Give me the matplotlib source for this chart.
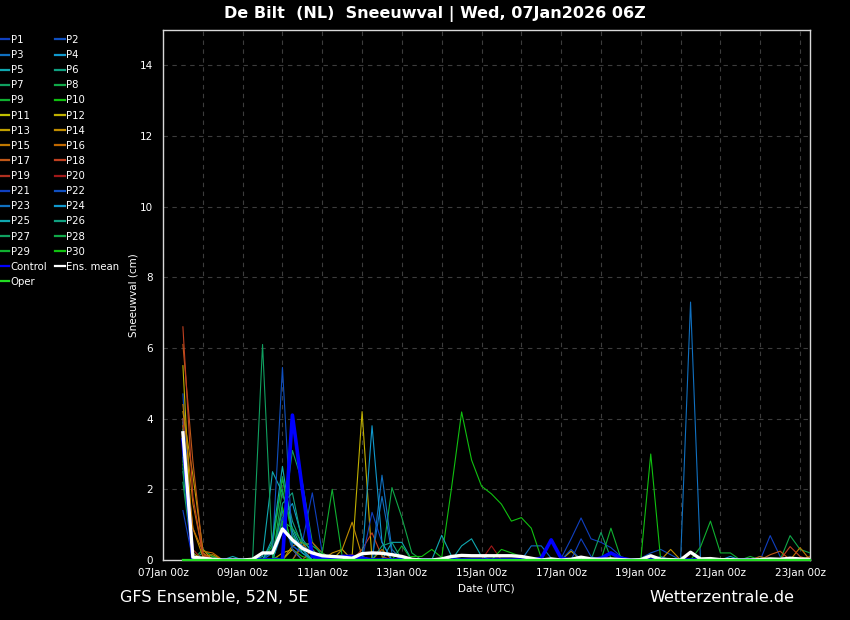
import matplotlib
matplotlib.use("Agg")
import matplotlib.pyplot as plt
import matplotlib.dates as mdates
from matplotlib.lines import Line2D
import pandas as pd

# GFS ensemble snowfall (cm), 6-hourly from 07Jan2026 12z
run_start = "2026-01-07 12:00"
n_steps = 64

P1 = [3.2, 0.1, 0, 0, 0, 0, 0, 0, 0, 0, 0, 0, 0.5, 1.9, 0.2, 0,
      0, 0, 0, 0, 0, 0, 0, 0, 0, 0, 0, 0, 0, 0, 0, 0,
      0, 0, 0, 0, 0, 0, 0.05, 0.6, 1.19, 0.6, 0.5, 0.35, 0.1, 0, 0, 0,
      0, 0, 0, 0, 0, 0, 0, 0, 0, 0, 0, 0.69, 0.1, 0, 0, 0]
P2 = [4.7, 0.05, 0, 0, 0, 0, 0, 0, 0, 0, 0, 0, 0, 0, 0, 0,
      0, 0, 0, 0, 0, 0, 0, 0, 0, 0, 0, 0, 0, 0, 0, 0,
      0, 0, 0, 0, 0, 0, 0, 0, 0, 0, 0, 0, 0, 0, 0.05, 0.2,
      0.3, 0.15, 0, 0, 0, 0, 0, 0, 0, 0, 0.1, 0, 0, 0, 0, 0]
P3 = [3.9, 0.1, 0, 0, 0, 0, 0, 0, 0, 0.2, 1.4, 0.4, 0.2, 0, 0, 0,
      0, 0, 0, 0, 1.8, 0.2, 0, 0, 0, 0, 0, 0, 0, 0, 0, 0,
      0, 0, 0, 0.4, 0.4, 0.05, 0, 0, 0, 0, 0, 0, 0, 0, 0, 0,
      0, 0, 0, 0, 0, 0, 0, 0, 0, 0, 0, 0, 0, 0, 0, 0]
P4 = [4.0, 0.1, 0, 0, 0, 0, 0, 0, 0, 0, 1.2, 1.6, 0.6, 0.2, 0, 0,
      0, 0, 0, 0, 0, 0, 0, 0, 0, 0, 0, 0, 0, 0, 0, 0,
      0, 0, 0, 0, 0, 0, 0, 0, 0, 0, 0, 0, 0, 0, 0, 0,
      0, 0, 0, 0, 0, 0, 0, 0.1, 0, 0, 0, 0, 0, 0, 0, 0]
P5 = [3.7, 0, 0, 0, 0, 0.1, 0, 0, 0.1, 2.5, 1.9, 0.9, 0.3, 0, 0, 0,
      0, 0, 0, 0, 0, 0.5, 0.5, 0, 0, 0, 0, 0, 0.4, 0.6, 0.1, 0,
      0, 0, 0, 0, 0, 0, 0, 0, 0, 0, 0, 0, 0, 0, 0, 0,
      0, 0, 0, 0, 0, 0, 0, 0, 0, 0, 0, 0, 0, 0, 0, 0]
P6 = [2.5, 0, 0.2, 0, 0, 0, 0, 0, 0, 0.5, 2.3, 1.1, 0.4, 0.2, 0, 0,
      0, 0, 0, 0, 0, 0, 0, 0, 0, 0, 0, 0, 0, 0, 0, 0,
      0, 0, 0, 0, 0, 0, 0, 0, 0, 0, 0, 0, 0, 0, 0, 0,
      0, 0, 0, 0, 0, 0, 0, 0, 0, 0, 0, 0, 0, 0, 0, 0]
P7 = [2.2, 0, 0, 0, 0, 0, 0, 0, 0, 0, 0.9, 3.1, 2.2, 0.5, 0.1, 0,
      0, 0, 0, 0, 0, 0, 0, 0, 0, 0, 0, 0, 0, 0, 0, 0,
      0, 0, 0, 0, 0, 0, 0, 0, 0, 0, 0.78, 0.05, 0, 0, 0, 0,
      0, 0, 0, 0, 0, 0, 0, 0, 0, 0, 0, 0, 0, 0, 0, 0]
P8 = [3.0, 0, 0.3, 0.1, 0, 0, 0, 0, 0, 0, 2.0, 0.7, 0.3, 0, 0, 0,
      0, 0, 0, 0, 0, 2.05, 1.2, 0.2, 0, 0, 0, 0, 0, 0, 0, 0,
      0, 0, 0, 0, 0, 0, 0, 0, 0, 0, 0, 0, 0, 0, 0, 0,
      0, 0, 0, 0, 0, 0, 0, 0, 0, 0, 0, 0, 0, 0.69, 0.3, 0.2]
P9 = [2.8, 0, 0, 0.1, 0, 0, 0, 0, 0, 0.4, 2.35, 0.6, 0.2, 0, 0, 0,
      0, 0, 0, 0, 0, 0, 0.4, 0, 0, 0, 0, 0, 0, 0, 0, 0,
      0, 0, 0, 0, 0, 0, 0, 0, 0, 0, 0, 0.9, 0.05, 0, 0, 0,
      0, 0, 0, 0, 0, 0, 0, 0, 0, 0.1, 0, 0, 0, 0, 0, 0]
P10 = [3.3, 0, 0, 0, 0, 0, 0, 0, 0, 0, 1.5, 0.3, 0.1, 0, 0, 0,
       0, 0, 0, 0, 0, 0, 0, 0.1, 0.1, 0.3, 0.07, 2.07, 4.19, 2.83, 2.09, 1.87,
       1.58, 1.1, 1.2, 0.9, 0.06, 0, 0, 0, 0, 0, 0, 0, 0, 0, 0, 0,
       0, 0, 0, 0, 0, 0, 0, 0, 0, 0, 0, 0, 0, 0, 0, 0]
P11 = [3.4, 0.1, 0, 0, 0, 0, 0, 0, 0, 0, 0, 0, 0, 0, 0.2, 0,
       0, 0, 0, 0, 0, 0, 0, 0, 0, 0, 0, 0, 0, 0, 0, 0,
       0, 0, 0, 0, 0, 0, 0, 0, 0, 0, 0, 0, 0, 0, 0, 0,
       0, 0, 0, 0, 0, 0, 0, 0, 0, 0, 0, 0, 0, 0, 0, 0]
P12 = [5.5, 0.2, 0, 0, 0, 0, 0, 0, 0, 0, 0, 0.3, 0, 0, 0, 0,
       0, 0.1, 4.2, 0, 0, 0, 0, 0, 0, 0, 0, 0, 0, 0, 0, 0,
       0, 0, 0, 0, 0, 0, 0, 0, 0, 0, 0, 0, 0, 0, 0, 0,
       0, 0, 0, 0, 0, 0, 0, 0, 0, 0, 0, 0, 0, 0, 0, 0]
P13 = [4.2, 2.4, 0.3, 0, 0, 0, 0, 0, 0, 0, 0.2, 0.3, 0, 0, 0, 0,
       0.3, 0, 0, 0, 0, 0, 0, 0, 0, 0, 0, 0, 0, 0, 0, 0,
       0, 0, 0, 0, 0, 0, 0, 0.25, 0, 0, 0, 0, 0, 0, 0, 0,
       0, 0, 0, 0, 0, 0, 0, 0, 0, 0, 0, 0, 0, 0, 0, 0]
P14 = [3.8, 0.9, 0.1, 0.15, 0, 0, 0, 0, 0, 0, 0, 0.4, 0.5, 0.1, 0, 0.2,
       0.3, 1.07, 0.1, 0, 0, 0, 0, 0, 0, 0, 0, 0, 0, 0, 0, 0,
       0, 0, 0, 0, 0, 0, 0, 0, 0, 0, 0, 0, 0, 0, 0, 0,
       0, 0.3, 0, 0, 0, 0, 0, 0, 0, 0, 0, 0, 0, 0, 0, 0]
P15 = [4.4, 1.6, 0.2, 0, 0, 0, 0, 0, 0, 0, 0, 0, 0, 0, 0, 0,
       0, 0, 0, 0, 0, 0, 0, 0, 0, 0, 0, 0, 0, 0, 0, 0,
       0, 0, 0, 0, 0, 0, 0, 0, 0, 0, 0, 0, 0, 0, 0, 0,
       0, 0, 0, 0, 0, 0, 0, 0, 0, 0, 0, 0, 0, 0, 0.35, 0]
P16 = [3.5, 0.9, 0.25, 0.2, 0, 0, 0, 0, 0, 0, 0, 0, 0.4, 0.5, 0.2, 0,
       0, 0, 0, 0, 0.3, 0, 0, 0, 0, 0, 0, 0, 0, 0, 0, 0,
       0, 0, 0, 0, 0, 0, 0, 0, 0, 0, 0, 0, 0, 0, 0, 0,
       0, 0, 0, 0, 0, 0, 0, 0, 0, 0, 0.1, 0, 0, 0, 0, 0.1]
P17 = [6.1, 2.8, 0.2, 0, 0, 0, 0, 0, 0, 0, 0, 0, 0, 0, 0, 0,
       0, 0, 0, 0, 0, 0, 0, 0, 0, 0, 0, 0, 0, 0, 0, 0,
       0, 0, 0, 0, 0, 0, 0, 0, 0, 0, 0, 0, 0, 0, 0, 0,
       0, 0, 0, 0, 0, 0, 0, 0, 0, 0, 0, 0.15, 0.25, 0, 0, 0]
P18 = [6.6, 1.8, 0.15, 0, 0, 0, 0, 0, 0, 0, 0, 0, 0, 0.3, 0, 0,
       0, 0, 0.3, 0.77, 0.1, 0, 0, 0, 0, 0, 0, 0, 0, 0, 0, 0,
       0, 0, 0, 0, 0, 0, 0, 0, 0, 0, 0, 0, 0, 0, 0, 0,
       0, 0, 0, 0, 0, 0, 0, 0, 0, 0, 0, 0, 0, 0.38, 0.1, 0]
P19 = [4.0, 0.3, 0, 0, 0, 0, 0, 0, 0, 0, 0, 0, 0, 0, 0, 0,
       0.1, 0.15, 0, 0, 0, 0, 0, 0, 0, 0, 0, 0, 0, 0, 0, 0,
       0, 0, 0, 0, 0, 0, 0, 0, 0, 0, 0, 0, 0, 0, 0, 0,
       0, 0, 0, 0, 0, 0, 0, 0, 0, 0, 0, 0, 0, 0, 0, 0]
P20 = [3.6, 0.1, 0, 0, 0, 0, 0, 0, 0, 0, 0, 0, 0, 0, 0, 0.1,
       0, 0, 0, 0, 0, 0, 0, 0, 0, 0, 0, 0, 0, 0, 0, 0.4,
       0, 0, 0, 0, 0, 0, 0, 0, 0, 0, 0, 0, 0, 0, 0, 0,
       0, 0, 0, 0, 0, 0, 0, 0, 0, 0, 0, 0, 0, 0, 0, 0]
P21 = [1.4, 0, 0, 0, 0, 0, 0, 0, 0, 0, 1.2, 0.3, 0, 0, 0, 0,
       0, 0, 0, 1.35, 0.5, 0, 0, 0, 0, 0, 0, 0, 0, 0, 0, 0,
       0, 0, 0, 0, 0, 0, 0, 0, 0.6, 0.1, 0, 0, 0, 0, 0, 0,
       0, 0, 0, 0, 0, 0, 0, 0, 0, 0, 0, 0, 0, 0, 0, 0]
P22 = [3.4, 0, 0, 0, 0, 0, 0, 0, 0, 0.3, 5.45, 0.4, 0.2, 0, 0, 0,
       0, 0, 0, 0, 0, 0, 0, 0, 0, 0, 0, 0, 0, 0, 0, 0,
       0, 0, 0, 0, 0, 0, 0, 0.3, 0, 0, 0, 0, 0, 0, 0, 0,
       0, 0, 0, 0, 0, 0, 0, 0, 0, 0, 0, 0, 0, 0, 0, 0]
P23 = [3.1, 0, 0, 0, 0, 0, 0, 0, 0, 0, 0.8, 0.6, 0.4, 0.2, 0, 0,
       0, 0, 0, 0, 2.4, 0.3, 0, 0, 0, 0, 0, 0, 0, 0, 0, 0,
       0, 0, 0, 0, 0, 0, 0, 0, 0, 0, 0, 0, 0, 0, 0, 0,
       0.1, 0, 0, 7.3, 0, 0, 0, 0, 0, 0, 0, 0, 0, 0, 0, 0]
P24 = [3.6, 0, 0, 0, 0, 0, 0, 0, 0, 0, 0.9, 0.5, 0.3, 0, 0, 0,
       0, 0, 0, 3.8, 0.5, 0, 0, 0, 0, 0, 0, 0, 0, 0, 0, 0,
       0, 0, 0, 0, 0, 0, 0, 0, 0, 0, 0, 0, 0, 0, 0, 0,
       0, 0, 0, 0, 0, 0, 0, 0, 0, 0, 0, 0, 0, 0, 0, 0]
P25 = [2.9, 0, 0, 0, 0, 0, 0, 0, 0, 0.6, 2.65, 0.8, 0.2, 0, 0, 0,
       0, 0, 0, 0, 0, 0, 0, 0, 0, 0, 0.7, 0.1, 0, 0, 0, 0,
       0, 0, 0, 0, 0, 0, 0, 0, 0, 0, 0, 0, 0, 0, 0, 0,
       0, 0, 0, 0, 0, 0, 0, 0, 0, 0, 0, 0, 0, 0, 0, 0]
P26 = [3.3, 0, 0, 0, 0, 0, 0, 0, 0, 0, 1.6, 1.9, 0.5, 0.3, 0, 0,
       0, 0, 0, 0, 0.4, 0.5, 0, 0, 0, 0, 0, 0, 0, 0, 0, 0,
       0, 0, 0, 0, 0, 0, 0, 0, 0, 0, 0, 0, 0, 0, 0, 0,
       0, 0, 0, 0, 0, 0, 0, 0, 0, 0, 0, 0, 0, 0, 0, 0]
P27 = [2.6, 0, 0, 0, 0, 0, 0, 0, 6.1, 0.1, 0, 0, 0, 0, 0, 0,
       0, 0, 0, 0, 0, 0, 0, 0, 0, 0, 0, 0, 0, 0, 0, 0,
       0, 0, 0, 0, 0, 0, 0, 0, 0, 0, 0, 0, 0, 0, 0, 0,
       0, 0, 0, 0, 0, 0, 0, 0, 0, 0, 0, 0, 0, 0, 0, 0]
P28 = [3.2, 0, 0, 0, 0, 0, 0, 0, 0, 0, 1.1, 0.9, 0.5, 0.4, 0.2, 0,
       0, 0, 0, 0, 0, 0, 0, 0, 0, 0, 0, 0, 0, 0, 0, 0,
       0, 0, 0, 0, 0, 0, 0, 0, 0, 0, 0, 0, 0, 0, 0, 0,
       0, 0, 0, 0, 0, 0, 0, 0, 0, 0, 0, 0, 0, 0, 0, 0]
P29 = [2.7, 0, 0, 0, 0, 0, 0, 0, 0, 0, 0, 0, 0, 0, 0.2, 2.0,
       0.1, 0, 0, 0, 0, 0, 0, 0, 0, 0, 0, 0, 0, 0, 0, 0,
       0, 0, 0, 0, 0, 0, 0, 0, 0, 0, 0, 0, 0, 0, 0, 0,
       0, 0, 0, 0, 0.37, 1.1, 0.2, 0.2, 0, 0, 0, 0, 0, 0, 0, 0]
P30 = [3.0, 0, 0, 0, 0, 0, 0, 0, 0, 0, 0, 0, 0, 0, 0, 0,
       0, 0, 0, 0, 0, 0, 0, 0, 0, 0, 0, 0, 0, 0, 0, 0,
       0.3, 0.2, 0.1, 0, 0, 0, 0, 0, 0, 0, 0, 0, 0, 0, 0, 3.0,
       0, 0, 0, 0, 0, 0, 0, 0, 0, 0, 0, 0, 0, 0, 0, 0]
control = [3.4, 0, 0, 0, 0, 0, 0, 0, 0, 0, 0, 4.1, 2.0, 0.1, 0.05, 0.05,
           0.1, 0.1, 0.05, 0, 0, 0, 0, 0, 0, 0, 0, 0, 0, 0, 0, 0,
           0, 0, 0, 0, 0.05, 0.57, 0.05, 0, 0, 0, 0.05, 0.2, 0.05, 0, 0, 0,
           0, 0, 0, 0, 0, 0, 0, 0, 0, 0, 0, 0, 0, 0, 0, 0]
oper = [0, 0, 0, 0, 0, 0, 0, 0, 0, 0, 0, 0, 0, 0, 0, 0,
        0, 0, 0, 0, 0, 0, 0, 0, 0, 0, 0, 0, 0, 0, 0, 0,
        0, 0, 0, 0, 0, 0, 0, 0, 0, 0, 0, 0, 0, 0, 0, 0,
        0, 0, 0, 0, 0, 0, 0, 0, 0, 0, 0, 0, 0, 0, 0, 0]
ens_mean = [3.6, 0.08, 0.05, 0.02, 0, 0, 0, 0.02, 0.2, 0.2, 0.88, 0.57, 0.33, 0.2, 0.12, 0.1,
            0.08, 0.05, 0.18, 0.2, 0.19, 0.15, 0.1, 0.02, 0, 0, 0.03, 0.1, 0.13, 0.12, 0.12, 0.12,
            0.12, 0.12, 0.1, 0.05, 0, 0.03, 0, 0.02, 0.08, 0.03, 0.02, 0.03, 0.01, 0, 0.01, 0.12,
            0.02, 0.01, 0, 0.22, 0.03, 0.04, 0.01, 0.01, 0, 0, 0.01, 0.03, 0.02, 0.05, 0.03, 0.02]

members = [P1, P2, P3, P4, P5, P6, P7, P8, P9, P10,
           P11, P12, P13, P14, P15, P16, P17, P18, P19, P20,
           P21, P22, P23, P24, P25, P26, P27, P28, P29, P30]
member_names = ["P%d" % (k + 1) for k in range(30)]

base_colors = ["#1040c0", "#1050c0", "#1070c0", "#1098cc", "#10a8b0",
               "#10a080", "#10a060", "#10a848", "#10b030", "#10c010",
               "#c0c000", "#c0b000", "#c0a000", "#c08c00", "#c07800",
               "#c06800", "#c05818", "#c04020", "#b03020", "#a01818"]
member_colors = base_colors + base_colors[:10]

times = pd.date_range(run_start, periods=n_steps, freq="6h")

fig = plt.figure(figsize=(8.5, 6.2), dpi=100, facecolor="black")
ax = fig.add_axes([163 / 850, 1 - 560 / 620, 647 / 850, 530 / 620])
ax.set_facecolor("black")

for vals, col in zip(members, member_colors):
    ax.plot(times, vals, color=col, lw=0.8, zorder=3)
ax.plot(times, control, color="#0000ff", lw=2.6, zorder=4)
ax.plot(times, ens_mean, color="white", lw=2.4, zorder=5)
ax.plot(times, oper, color="#22dd22", lw=1.6, zorder=6, clip_on=False)

ax.set_xlim(pd.Timestamp("2026-01-07 00:00"), pd.Timestamp("2026-01-23 06:00"))
ax.set_ylim(0, 15)
ax.set_yticks(range(0, 15, 2))
ax.xaxis.set_major_locator(mdates.DayLocator(bymonthday=range(7, 24, 2)))
ax.xaxis.set_minor_locator(mdates.DayLocator())
ax.xaxis.set_major_formatter(mdates.DateFormatter("%d%b %Hz"))

ax.grid(True, which="both", axis="x", color="#3c3c3c", ls=(0, (4, 4)), lw=0.8)
ax.grid(True, which="major", axis="y", color="#3c3c3c", ls=(0, (4, 4)), lw=0.8)
ax.tick_params(which="both", length=0, colors="white", labelsize=7.5, pad=7)
ax.tick_params(axis="x", pad=6)
for sp in ax.spines.values():
    sp.set_color("#d8d8d8")
    sp.set_linewidth(1)

ax.set_xlabel("Date (UTC)", color="white", fontsize=7.5, labelpad=4)
ax.set_ylabel("Sneeuwval (cm)", color="white", fontsize=7.5, labelpad=1)

fig.text(0.512, 0.978, "De Bilt  (NL)  Sneeuwval | Wed, 07Jan2026 06Z",
         ha="center", va="center", color="white", fontsize=11.5, fontweight="bold")
fig.text(120 / 850, 1 - 598 / 620, "GFS Ensemble, 52N, 5E",
         ha="left", va="center", color="white", fontsize=11.5)
fig.text(794 / 850, 1 - 598 / 620, "Wetterzentrale.de",
         ha="right", va="center", color="white", fontsize=11.5)

# legend: odd members in the first column, even in the second
col1 = [(member_names[k], member_colors[k]) for k in range(0, 30, 2)]
col1 += [("Control", "#0000ff"), ("Oper", "#22dd22")]
col2 = [(member_names[k], member_colors[k]) for k in range(1, 30, 2)]
col2 += [("Ens. mean", "white")]
entries = col1 + col2
handles = [Line2D([], [], color=c, lw=1.6) for _, c in entries]
labels = [n for n, _ in entries]
fig.legend(handles, labels, loc="upper left", bbox_to_anchor=(0.0, 1 - 35 / 620),
           ncol=2, frameon=False, fontsize=7.3, labelcolor="white",
           handlelength=0.9, handletextpad=0.15, columnspacing=0.8,
           labelspacing=0.505, borderpad=0, borderaxespad=0)

plt.savefig("out.png", dpi=100, facecolor="black")
